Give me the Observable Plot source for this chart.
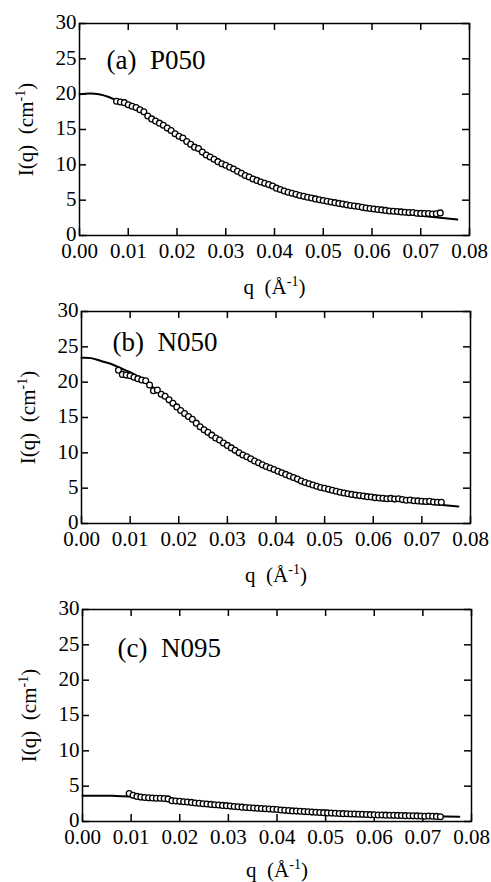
<!DOCTYPE html>
<html><head><meta charset="utf-8">
<script src="https://cdn.jsdelivr.net/npm/d3@7"></script>
<script src="https://cdn.jsdelivr.net/npm/@observablehq/plot@0.6"></script>
<style>
body{margin:0;background:#fff;}
#wrap{position:relative;width:491px;height:882px;overflow:hidden;background:#fff;}
.panel{position:absolute;left:0;}
.panel svg text{font-family:'Liberation Serif','Times New Roman',Times,serif !important;}
</style></head><body><div id="wrap"></div>
<script>
// ---- data ----
const xTicks = [0, 0.01, 0.02, 0.03, 0.04, 0.05, 0.06, 0.07, 0.08];
const yTicks = [0, 5, 10, 15, 20, 25, 30];
const panelLabels = ["(a)\u00a0 P050", "(b)\u00a0 N050", "(c)\u00a0 N095"];
const xLabel = "q  (Å-1)";
const yLabel = "I(q)  (cm-1)";

const qAB = [0.0076,0.0084,0.0092,0.0100,0.0108,0.0116,0.0124,0.0132,0.0140,0.0148,
  0.0156,0.0164,0.0172,0.0180,0.0188,0.0196,0.0204,0.0212,0.0220,0.0228,
  0.0236,0.0244,0.0252,0.0260,0.0268,0.0276,0.0284,0.0292,0.0300,0.0308,
  0.0316,0.0324,0.0332,0.0340,0.0348,0.0356,0.0364,0.0372,0.0380,0.0388,
  0.0396,0.0404,0.0412,0.0420,0.0428,0.0436,0.0444,0.0452,0.0460,0.0468,
  0.0476,0.0484,0.0492,0.0500,0.0508,0.0516,0.0524,0.0532,0.0540,0.0548,
  0.0556,0.0564,0.0572,0.0580,0.0588,0.0596,0.0604,0.0612,0.0620,0.0628,
  0.0636,0.0644,0.0652,0.0660,0.0668,0.0676,0.0684,0.0692,0.0700,0.0708,
  0.0716,0.0724,0.0732,0.0740];

const ptsA = [19.0,18.9,18.8,18.5,18.3,18.1,17.8,17.5,16.9,16.5,
  16.2,15.9,15.6,15.2,14.85,14.4,14.05,13.8,13.3,12.9,
  12.5,12.3,11.8,11.4,11.1,10.8,10.45,10.15,9.95,9.65,
  9.4,9.1,8.8,8.5,8.28,8.0,7.8,7.57,7.38,7.2,
  7.0,6.7,6.5,6.3,6.13,5.98,5.82,5.67,5.54,5.42,
  5.3,5.18,5.06,4.95,4.85,4.74,4.65,4.54,4.44,4.34,
  4.24,4.17,4.10,3.98,3.9,3.83,3.75,3.68,3.62,3.55,
  3.47,3.43,3.39,3.34,3.28,3.24,3.25,3.15,3.13,3.1,
  3.12,3.05,3.08,3.2];

const ptsB = [21.7,21.1,21.0,20.9,20.7,20.5,20.3,20.2,19.6,18.8,
  18.9,18.3,18.0,17.5,17.0,16.5,16.0,15.55,15.15,14.75,
  14.2,13.7,13.25,12.9,12.5,12.1,11.8,11.4,11.05,10.7,
  10.35,10.0,9.7,9.45,9.15,8.85,8.6,8.3,8.07,7.85,
  7.65,7.4,7.18,6.95,6.72,6.5,6.28,6.0,5.8,5.62,
  5.45,5.28,5.1,4.98,4.83,4.7,4.56,4.43,4.32,4.2,
  4.12,4.02,3.95,3.88,3.8,3.74,3.66,3.6,3.56,3.5,
  3.55,3.45,3.5,3.38,3.3,3.33,3.22,3.2,3.15,3.12,
  3.15,3.05,3.0,3.0];

const qC = [0.0096,0.0104,0.0112,0.0120,0.0128,0.0136,0.0144,0.0152,0.0160,0.0168,
  0.0176,0.0184,0.0192,0.0200,0.0208,0.0216,0.0224,0.0232,0.0240,0.0248,
  0.0256,0.0264,0.0272,0.0280,0.0288,0.0296,0.0304,0.0312,0.0320,0.0328,
  0.0336,0.0344,0.0352,0.0360,0.0368,0.0376,0.0384,0.0392,0.0400,0.0408,
  0.0416,0.0424,0.0432,0.0440,0.0448,0.0456,0.0464,0.0472,0.0480,0.0488,
  0.0496,0.0504,0.0512,0.0520,0.0528,0.0536,0.0544,0.0552,0.0560,0.0568,
  0.0576,0.0584,0.0592,0.0600,0.0608,0.0616,0.0624,0.0632,0.0640,0.0648,
  0.0656,0.0664,0.0672,0.0680,0.0688,0.0696,0.0704,0.0712,0.0720,0.0728,
  0.0736];

const ptsC = [3.95,3.7,3.55,3.45,3.4,3.35,3.33,3.3,3.28,3.25,
  3.2,2.95,2.9,2.85,2.8,2.75,2.7,2.62,2.58,2.52,
  2.48,2.42,2.38,2.33,2.28,2.24,2.18,2.12,2.08,2.03,
  1.98,1.95,1.9,1.87,1.83,1.8,1.76,1.73,1.7,1.62,
  1.58,1.54,1.5,1.47,1.44,1.4,1.37,1.33,1.3,1.28,
  1.25,1.22,1.19,1.16,1.14,1.11,1.09,1.07,1.05,1.03,
  1.01,0.99,0.97,0.95,0.93,0.92,0.9,0.89,0.87,0.86,
  0.85,0.83,0.82,0.8,0.79,0.78,0.74,0.77,0.75,0.72,
  0.68];

const fitQ = [0,0.002,0.004,0.006,0.008,0.010,0.012,0.014,0.016,0.018,
  0.020,0.022,0.024,0.026,0.028,0.030,0.032,0.034,0.036,0.038,
  0.040,0.044,0.048,0.052,0.056,0.060,0.064,0.068,0.072,0.0775];
const fitA = [20.0,20.1,20.0,19.6,19.0,18.4,17.7,16.9,16.0,15.1,
  14.2,13.3,12.4,11.6,10.8,10.0,9.3,8.6,8.0,7.45,
  6.9,6.0,5.25,4.65,4.1,3.6,3.25,2.95,2.65,2.25];
const fitB = [23.45,23.4,23.0,22.6,22.0,21.4,20.6,19.6,18.6,17.4,
  16.2,15.1,14.0,12.95,12.0,11.1,10.3,9.5,8.8,8.15,
  7.55,6.4,5.4,4.65,4.05,3.62,3.3,3.0,2.75,2.4];
const fitC = [3.65,3.65,3.65,3.63,3.58,3.52,3.42,3.3,3.17,3.03,
  2.88,2.74,2.6,2.47,2.34,2.22,2.11,2.0,1.9,1.8,
  1.71,1.5,1.33,1.2,1.07,0.97,0.89,0.82,0.76,0.66];

// ---- layout ----
const FONT = "Liberation Serif";
const W = 491, H = 296, MT = 23, MB = 61;
const panels = [
  {top: 0,   ml: 79, mr: 22, q: qAB, I: ptsA, fit: fitA, lx: 27, ly: 45, xl: 52},
  {top: 288, ml: 81, mr: 21, q: qAB, I: ptsB, fit: fitB, lx: 31, ly: 39, xl: 52},
  {top: 586, ml: 82, mr: 20, q: qC,  I: ptsC, fit: fitC, lx: 35, ly: 47, xl: 49}
];

const wrap = document.getElementById("wrap");

function supText(el, before, sup, after) {
  const t = d3.select(el);
  t.text(null);
  t.append("tspan").text(before);
  t.append("tspan").attr("dy", "-8").style("font-size", "14px").text(sup);
  t.append("tspan").attr("dy", "8").text(after);
}

panels.forEach((p, k) => {
  const fw = W - p.ml - p.mr, fh = H - MT - MB;
  const pts = p.q.map((q, i) => ({q, I: p.I[i]}));
  const fit = fitQ.map((q, i) => ({q, I: p.fit[i]}));
  const chart = Plot.plot({
    width: W, height: H,
    marginTop: MT, marginBottom: MB, marginLeft: p.ml, marginRight: p.mr,
    style: {fontFamily: FONT, fontSize: "21px", color: "black", background: "transparent", overflow: "visible"},
    x: {domain: [0, 0.08]},
    y: {domain: [0, 30]},
    marks: [
      Plot.axisX(xTicks, {tickSize: 0, tickPadding: 8, tickFormat: d3.format(".2f"), label: null, fontSize: 21, fontVariant: "normal"}),
      Plot.axisY(yTicks, {tickSize: 0, tickPadding: 3, label: null, fontSize: 21, fontVariant: "normal", dy: -1}),
      Plot.tickX(xTicks, {x: d => d, insetTop: fh - 7, stroke: "black", strokeWidth: 1.5}),
      Plot.tickX(xTicks, {x: d => d, insetBottom: fh - 7, stroke: "black", strokeWidth: 1.5}),
      Plot.tickY(yTicks, {y: d => d, insetRight: fw - 7, stroke: "black", strokeWidth: 1.5}),
      Plot.tickY(yTicks, {y: d => d, insetLeft: fw - 7, stroke: "black", strokeWidth: 1.5}),
      Plot.line(fit, {x: "q", y: "I", curve: "natural", stroke: "black", strokeWidth: 2}),
      Plot.dot(pts, {x: "q", y: "I", r: 2.9, stroke: "black", strokeWidth: 1.3, fill: "white"}),
      Plot.frame({stroke: "black", strokeWidth: 1.5}),
      Plot.text([panelLabels[k]], {text: d => d, frameAnchor: "top-left", dx: p.lx, dy: p.ly,
        textAnchor: "start", lineAnchor: "bottom", fontSize: 27, fill: "black"}),
      Plot.text([xLabel], {text: d => d, frameAnchor: "bottom", dy: p.xl, textAnchor: "middle", lineAnchor: "middle", fontSize: 21, fill: "black"}),
      Plot.text([yLabel], {text: d => d, frameAnchor: "left", dx: -53, rotate: -90, textAnchor: "middle", lineAnchor: "middle", fontSize: 21, fill: "black"})
    ]
  });
  d3.select(chart).selectAll("text").each(function () {
    if (this.textContent === xLabel) supText(this, "q  (Å", "-1", ")");
    else if (this.textContent === yLabel) supText(this, "I(q)  (cm", "-1", ")");
  });
  d3.select(chart).selectAll("text").style("white-space", "pre");
  const div = document.createElement("div");
  div.className = "panel";
  div.style.top = p.top + "px";
  div.appendChild(chart);
  wrap.appendChild(div);
});
</script></body></html>
